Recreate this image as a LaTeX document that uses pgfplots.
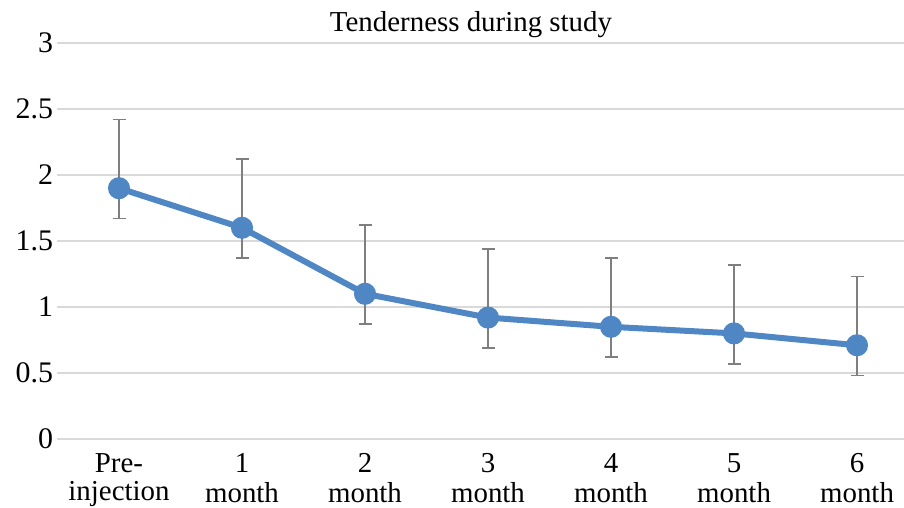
\documentclass[border=0pt]{standalone}
\usepackage{pgfplots}
\pgfplotsset{compat=1.18}
\usepackage{fontspec}
\setmainfont{Liberation Serif}
\definecolor{lineblue}{HTML}{4F86C4}
\definecolor{errgray}{HTML}{7F7F7F}
\definecolor{gridgray}{HTML}{D9D9D9}
\begin{document}
\begin{tikzpicture}
\useasboundingbox (-57.5bp,-69bp) rectangle (846.5bp,439bp);
\begin{axis}[
  at={(0,0)}, anchor=south west,
  scale only axis,
  width=846.5bp, height=396bp,
  xmin=-0.5, xmax=6.382,
  ymin=0, ymax=3,
  ytick={0,0.5,...,3},
  xtick={0,1,2,3,4,5,6},
  xticklabels={{\strut Pre-\\injection},{\strut 1\\month},{\strut 2\\month},{\strut 3\\month},{\strut 4\\month},{\strut 5\\month},{\strut 6\\month}},
  x tick label style={align=center, font=\fontsize{29}{28}\selectfont, anchor=north, yshift=-14bp, inner sep=0pt},
  y tick label style={font=\fontsize{30}{30}\selectfont, anchor=east, xshift=-1bp},
  /pgf/number format/assume math mode=true,
  axis line style={draw=none},
  major tick length=0pt,
  ymajorgrids,
  grid style={gridgray, line width=1.6bp},
  clip=false,
]
\addplot[draw=none, mark=none, forget plot,
  error bars/.cd, y dir=both, y explicit,
  error bar style={errgray, line width=1.6bp},
  error mark options={rotate=90, mark size=6.5bp, line width=1.6bp, errgray}]
  table[x=x, y=y, y error plus=ep, y error minus=em] {
x y ep em
0 1.90 0.52 0.23
1 1.60 0.52 0.23
2 1.10 0.52 0.23
3 0.92 0.52 0.23
4 0.85 0.52 0.23
5 0.80 0.52 0.23
6 0.71 0.52 0.23
};
\addplot[lineblue, line width=6bp, mark=*, mark size=8bp, mark options={fill=lineblue, draw=none}]
  table[x=x, y=y] {
x y
0 1.90
1 1.60
2 1.10
3 0.92
4 0.85
5 0.80
6 0.71
};
\end{axis}
\node at (413.5bp,414bp) {\fontsize{29}{29}\selectfont Tenderness during study};
\end{tikzpicture}
\end{document}
